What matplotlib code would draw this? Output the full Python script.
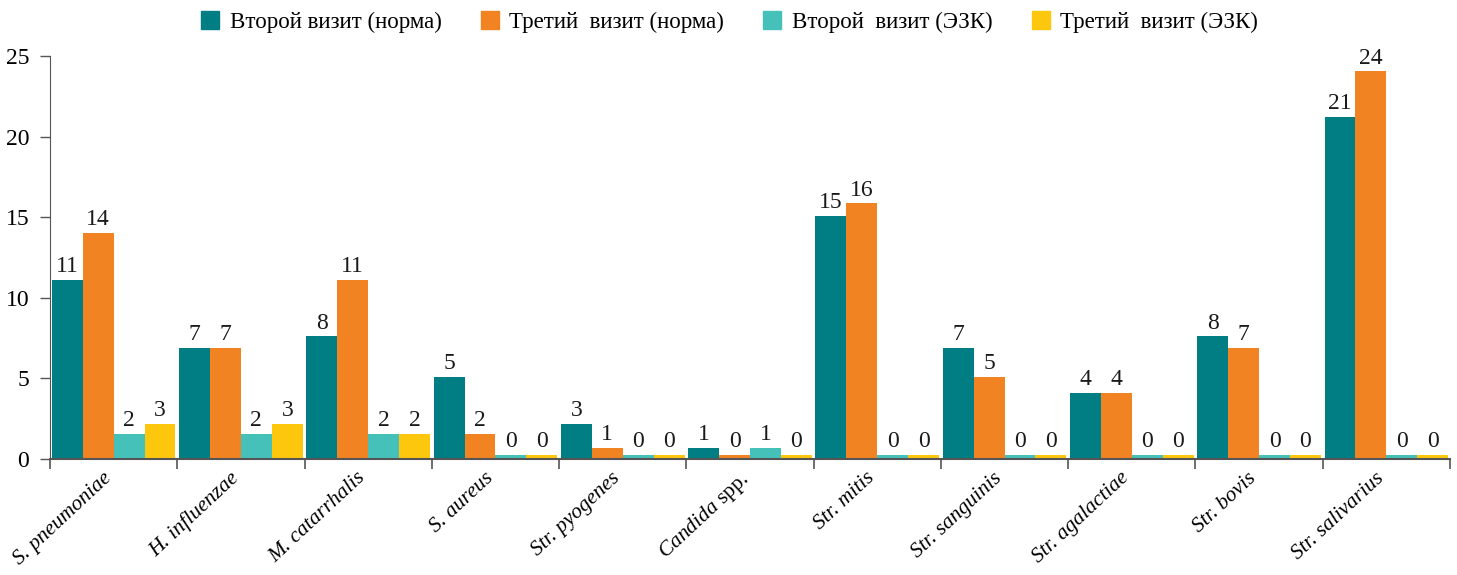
import matplotlib
matplotlib.use("Agg")
import matplotlib.pyplot as plt
import numpy as np
from matplotlib.lines import Line2D

categories = ["S. pneumoniae", "H. influenzae", "M. catarrhalis", "S. aureus",
              "Str. pyogenes", "$\\mathit{Candida}$ spp.", "Str. mitis", "Str. sanguinis",
              "Str. agalactiae", "Str. bovis", "Str. salivarius"]
series_names = ["Второй визит (норма)", "Третий  визит (норма)",
                "Второй  визит (ЭЗК)", "Третий  визит (ЭЗК)"]
visit2_norm = [11.1, 6.9, 7.6, 5.1, 2.2, 0.68, 15.1, 6.9, 4.1, 7.6, 21.2]
visit3_norm = [14.05, 6.9, 11.1, 1.55, 0.68, 0.25, 15.85, 5.1, 4.1, 6.9, 24.05]
visit2_ezk = [1.55, 1.55, 1.55, 0.25, 0.25, 0.68, 0.25, 0.25, 0.25, 0.25, 0.25]
visit3_ezk = [2.2, 2.2, 1.55, 0.25, 0.25, 0.25, 0.25, 0.25, 0.25, 0.25, 0.25]
labels_v2n = ["11", "7", "8", "5", "3", "1", "15", "7", "4", "8", "21"]
labels_v3n = ["14", "7", "11", "2", "1", "0", "16", "5", "4", "7", "24"]
labels_v2e = ["2", "2", "2", "0", "0", "1", "0", "0", "0", "0", "0"]
labels_v3e = ["3", "3", "2", "0", "0", "0", "0", "0", "0", "0", "0"]
y_ticks = [0, 5, 10, 15, 20, 25]

colors = ["#007E84", "#F28322", "#45C1B9", "#FDC70E"]
font = "Liberation Serif"
plt.rcParams["font.family"] = [font, "DejaVu Serif"]
plt.rcParams["mathtext.fontset"] = "custom"
plt.rcParams["mathtext.rm"] = "Liberation Serif"
plt.rcParams["mathtext.it"] = "Liberation Serif:italic"

fig = plt.figure(figsize=(14.57, 5.75), dpi=100)
ax = fig.add_axes([50/1457, 1-459/575, 1400/1457, 403/575])

x = np.arange(len(categories))
w = 0.243
data = [visit2_norm, visit3_norm, visit2_ezk, visit3_ezk]
labs = [labels_v2n, labels_v3n, labels_v2e, labels_v3e]
for i, (vals, lb) in enumerate(zip(data, labs)):
    pos = x + (i - 1.5) * w
    bars = ax.bar(pos, vals, width=w, color=colors[i], label=series_names[i], zorder=2)
    for b, t in zip(bars, lb):
        ax.annotate(t, (b.get_x() + b.get_width()/2, b.get_height()),
                    xytext=(0, 2), textcoords="offset points",
                    ha="center", va="bottom", fontsize=17, color="#1a1a1a")

ax.set_xlim(-0.5, len(categories) - 0.5)
ax.set_ylim(0, 25)
ax.set_yticks(y_ticks)
ax.set_yticklabels([str(t) for t in y_ticks], fontsize=17)
ax.set_xticks(np.arange(len(categories) + 1) - 0.5)
ax.set_xticklabels([])
ax.tick_params(axis="y", length=7, width=1, color="#555555", pad=8)
ax.tick_params(axis="x", length=7, width=1.2, color="#555555")
for s in ["top", "right"]:
    ax.spines[s].set_visible(False)
ax.spines["left"].set_color("#555555")
ax.spines["bottom"].set_color("#555555")
ax.spines["bottom"].set_linewidth(1.5)
ax.spines["bottom"].set_zorder(3)

for i, c in enumerate(categories):
    st = "normal" if "$" in c else "italic"
    ax.text(i - 0.09, -0.6, c, rotation=43, rotation_mode="anchor",
            ha="right", va="top", fontsize=15.5, style=st,
            transform=ax.transData)

hs = [Line2D([], [], marker="s", linestyle="", markersize=13, color=c) for c in colors]
fig.legend(hs, series_names, loc="center", bbox_to_anchor=(0.5, 1-22/575), ncol=4,
           frameon=False, fontsize=16.5, handletextpad=0.35, columnspacing=1.6,
           handlelength=1.0)

fig.savefig("out.png", dpi=100)
